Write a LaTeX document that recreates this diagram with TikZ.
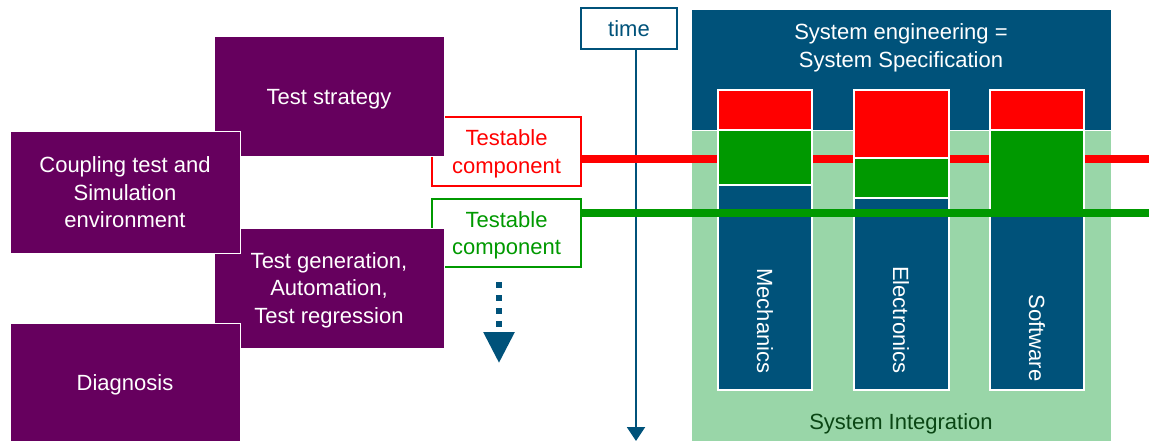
\documentclass[tikz,border=0pt]{standalone}
\usepackage{fontspec}
\setmainfont{Liberation Sans}
\usetikzlibrary{arrows.meta,positioning}

\definecolor{tsblue}{RGB}{0,82,122}
\definecolor{tspurple}{RGB}{102,0,94}
\definecolor{tsgreen}{RGB}{0,153,0}
\definecolor{tslight}{RGB}{153,214,168}
\definecolor{tsdark}{RGB}{10,70,20}

\tikzset{
    every node/.style={font=\fontsize{22}{27.5}\selectfont},
    pbox/.style={rectangle, draw=white, line width=1pt, fill=tspurple, text=white, align=center, text depth=0pt,
        minimum width=230pt, minimum height=120pt, inner sep=0pt, outer sep=0pt, anchor=north west},
    tcbox/.style={rectangle, line width=2pt, fill=white, align=center, text depth=0pt,
        minimum width=149pt, minimum height=68pt, inner sep=0pt, outer sep=0pt, anchor=north west},
    seg/.style={rectangle, draw=white, line width=1.5pt, inner sep=0pt, outer sep=0pt,
        minimum width=94pt, anchor=north west},
    coltext/.style={text=white, rotate=-90}
}

\begin{document}
\begin{tikzpicture}[x=1pt, y=-1pt]
    \useasboundingbox (0,0) rectangle (1149,441);
    \clip (0,0) rectangle (1149,441);

    % testable components, behind the purple boxes
    \node[tcbox, draw=red, text=red, minimum height=69pt] (redtc) at (432,117) {Testable\\component};
    \node[tcbox, draw=tsgreen, text=tsgreen] (greentc) at (432,199) {Testable\\component};

    % test activities
    \node[pbox] (strategy) at (214,37) {Test strategy};
    \node[pbox] (generation) at (214,228) {Test generation,\\Automation,\\Test regression};
    \node[pbox, minimum height=121pt] (coupling) at (10,132) {Coupling test and\\Simulation\\environment};
    \node[pbox] (diagnosis) at (10,323) {Diagnosis};

    % more to come
    \coordinate (moretop) at (499,282);
    \coordinate (morebot) at (499,363);
    \draw[tsblue, line width=6pt, dash pattern=on 6pt off 7pt, -{Triangle[width=30pt,length=31pt]}] (moretop) -- (morebot);

    % time axis
    \node[draw=tsblue, line width=2pt, text=tsblue, minimum width=96pt, minimum height=41pt, text depth=0pt,
        inner sep=0pt, outer sep=0pt, anchor=north west] (time) at (581,8) {time};
    \coordinate (timeend) at (636,441);
    \draw[tsblue, line width=2pt, -{Triangle[width=18pt,length=14pt]}] (time.south -| timeend) -- (timeend);

    % system engineering and integration
    \node[seg, fill=tsblue, line width=1pt, minimum width=420pt, minimum height=121pt] (spec) at (691,10) {};
    \node[seg, fill=tslight, line width=1pt, minimum width=420pt, minimum height=315pt] (integ) at (691,131) {};
    \node[text=white, align=center] (spectext) at (901,48) {System engineering =\\System Specification};
    \node[text=tsdark] (integtext) at (901,424) {System Integration};

    % red level
    \coordinate (redend) at (1149,159);
    \draw[red, line width=8pt] (redtc.east |- redend) -- (redend);

    % domains
    \node[seg, fill=red, minimum height=40pt] (mechred) at (718,90) {};
    \node[seg, fill=tsgreen, minimum height=55pt, below=0pt of mechred] (mechgreen) {};
    \node[seg, fill=tsblue, minimum height=205pt, below=0pt of mechgreen] (mechblue) {};

    \node[seg, fill=red, minimum width=95pt, minimum height=68pt] (elecred) at (854,90) {};
    \node[seg, fill=tsgreen, minimum width=95pt, minimum height=40pt, below=0pt of elecred] (elecgreen) {};
    \node[seg, fill=tsblue, minimum width=95pt, minimum height=192pt, below=0pt of elecgreen] (elecblue) {};

    \node[seg, fill=red, minimum height=40pt] (softred) at (990,90) {};
    \node[seg, fill=tsgreen, minimum height=86pt, below=0pt of softred] (softgreen) {};
    \node[seg, fill=tsblue, minimum height=174pt, below=0pt of softgreen] (softblue) {};

    % green level
    \coordinate (greenend) at (1149,213);
    \draw[tsgreen, line width=8pt] (greentc.east |- greenend) -- (greenend);

    \node[coltext] (mechtext) at (765,321) {Mechanics};
    \node[coltext] (electext) at (901,320) {Electronics};
    \node[coltext] (softtext) at (1037,338) {Software};
\end{tikzpicture}
\end{document}
